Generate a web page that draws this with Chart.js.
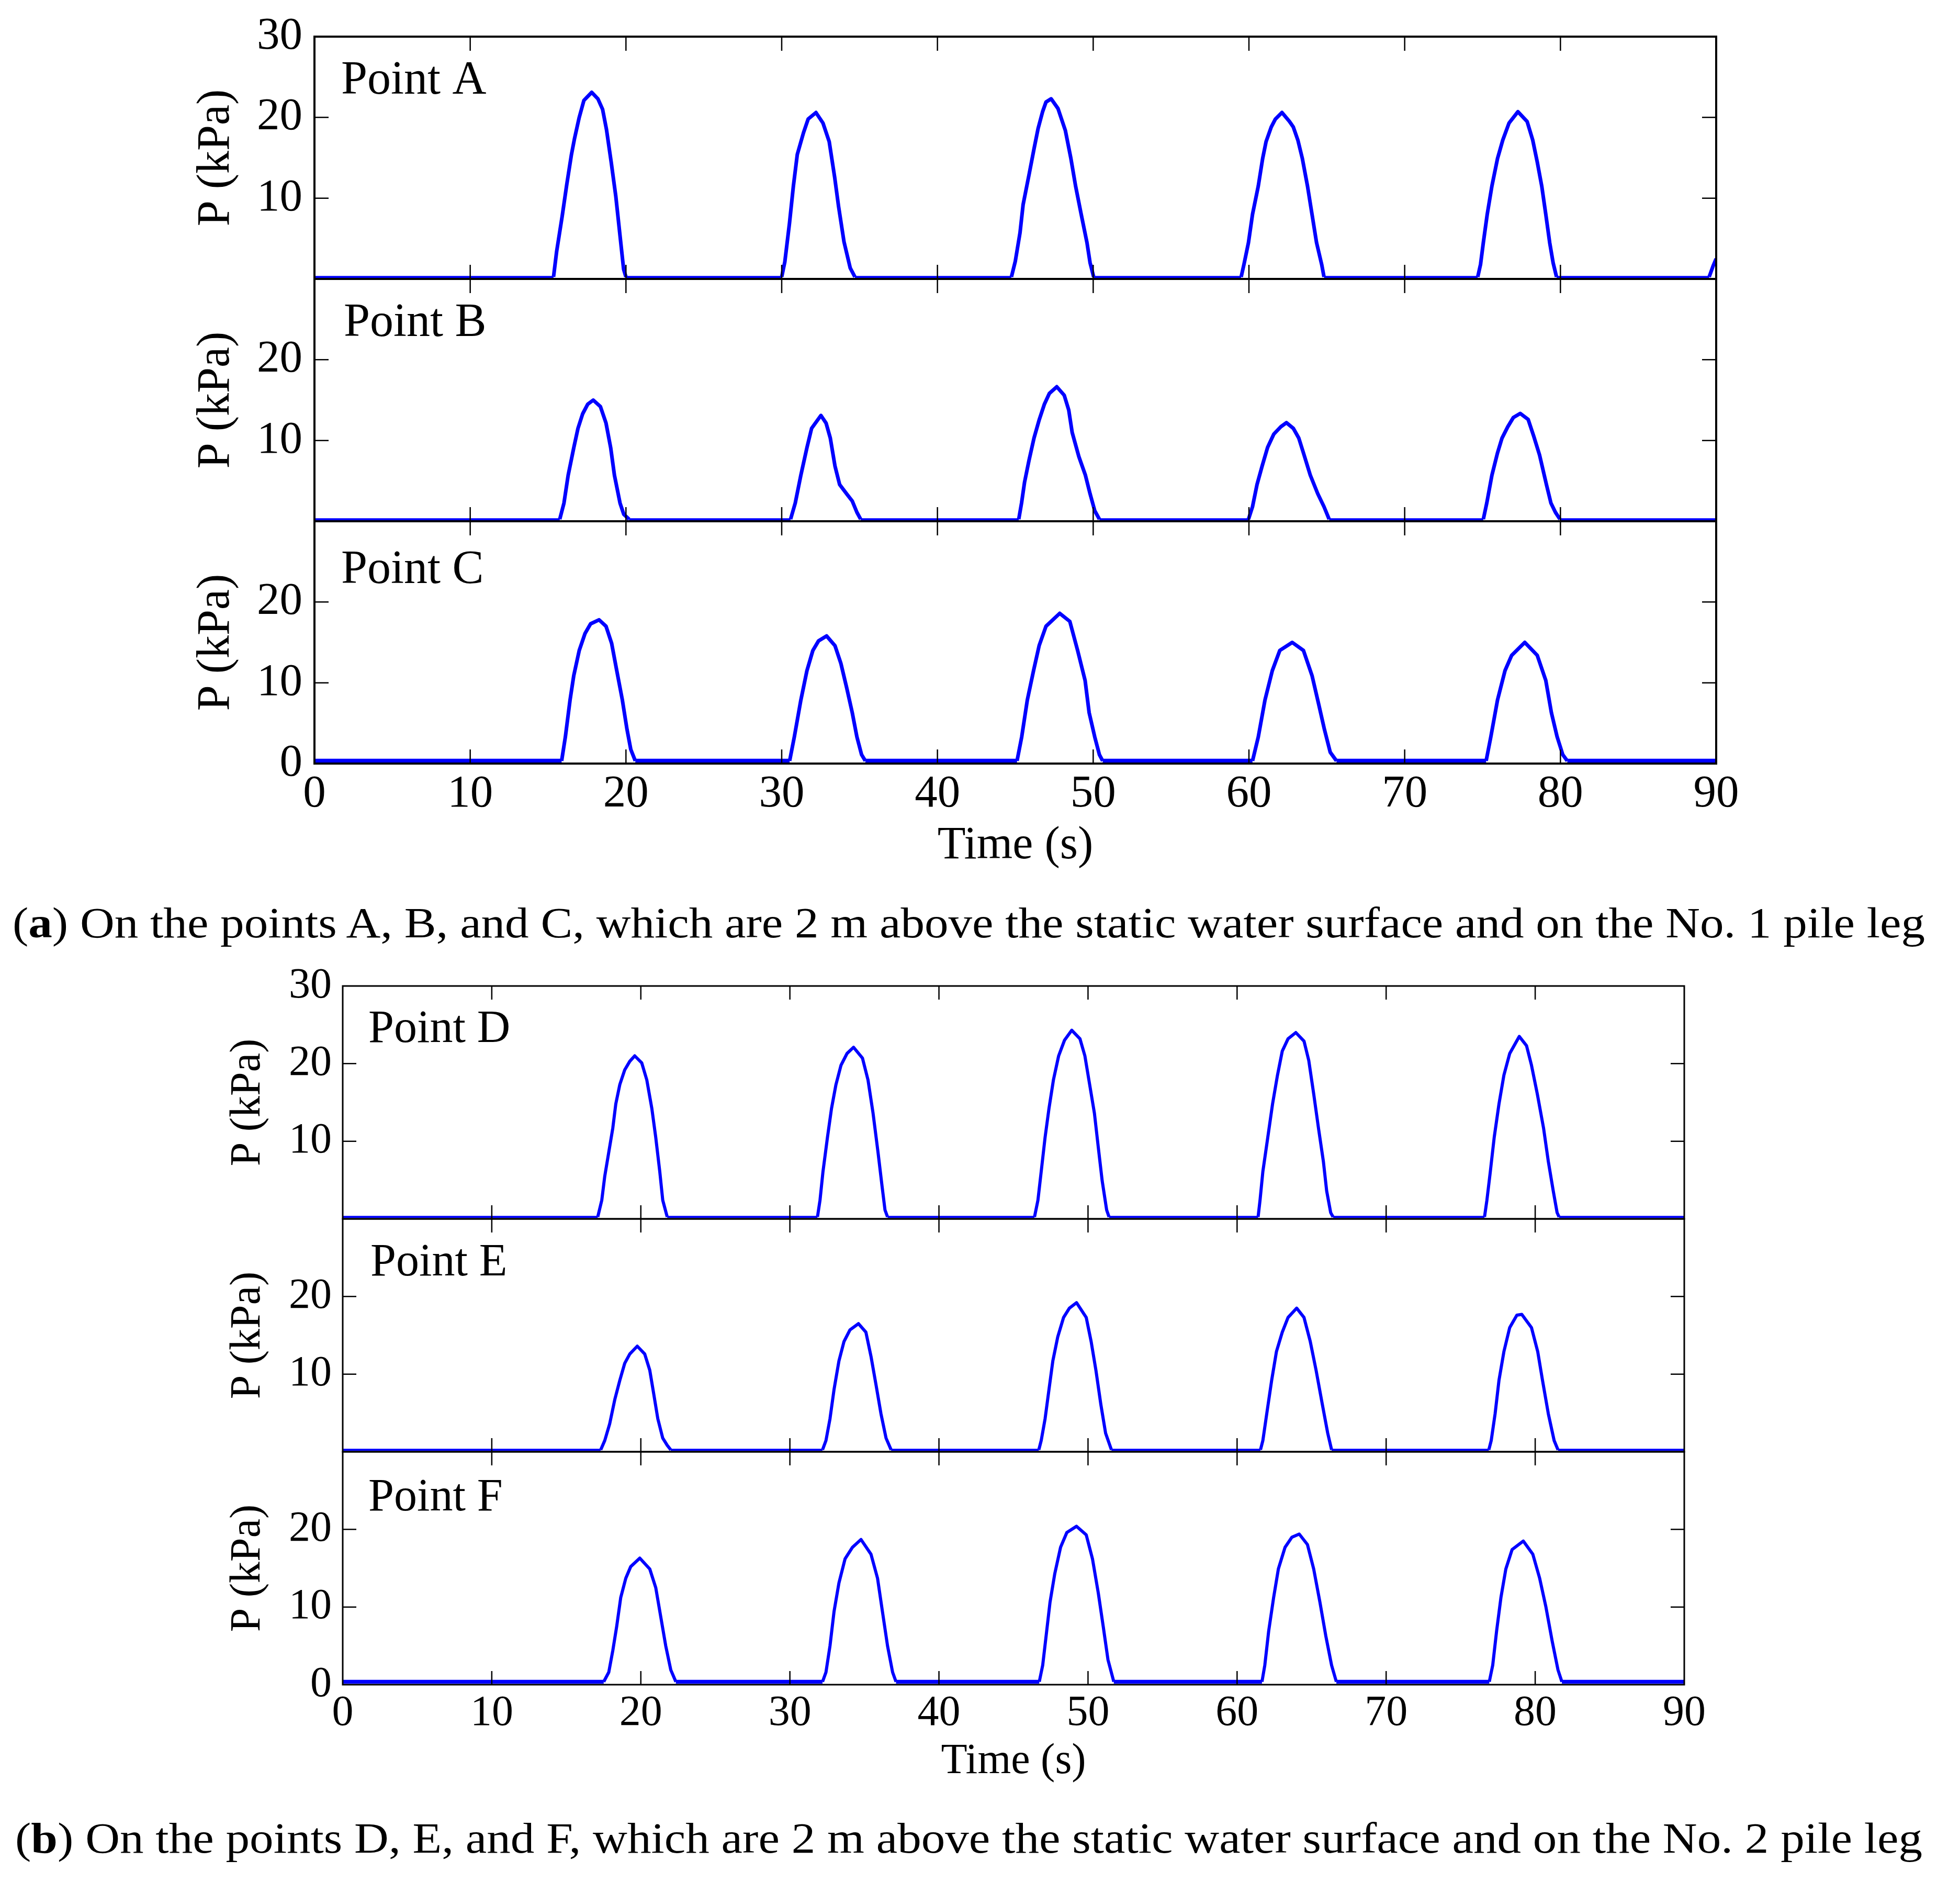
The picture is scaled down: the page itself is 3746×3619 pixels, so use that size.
<!DOCTYPE html>
<html>
<head>
<meta charset="utf-8">
<script src="https://cdn.jsdelivr.net/npm/chart.js@4.4.1/dist/chart.umd.min.js"></script>
<style>
  html, body { margin: 0; padding: 0; background: #fff; }
  body { position: relative; width: 3746px; height: 3619px; overflow: hidden; font-family: "Liberation Serif", serif; }
  canvas { position: absolute; left: 0; }
  .cap { position: absolute; white-space: nowrap; font-size: 83px; line-height: 83px; color: #000; transform-origin: 0 0; }
</style>
</head>
<body>
<div class="cap" data-left="24" data-right="3679" style="top:1722px">(<b>a</b>) On the points A, B, and C, which are 2 m above the static water surface and on the No. 1 pile leg</div>
<div class="cap" data-left="29" data-right="3674" style="top:3471px">(<b>b</b>) On the points D, E, and F, which are 2 m above the static water surface and on the No. 2 pile leg</div>
<script>
// Wave slamming pressure, six gauge points — Chart.js

// ---- axis ticks ----
const xTicks = [0, 10, 20, 30, 40, 50, 60, 70, 80, 90];
const yTicks = [0, 10, 20, 30];

// ---- data: time (s) / pressure (kPa) ----
const timeA = [0, 15.35, 15.55, 15.9, 16.2, 16.5, 16.7, 17.0, 17.3, 17.8, 18.2, 18.5, 18.75, 19.05, 19.35, 19.65, 19.85, 20.0,
  30.0, 30.2, 30.5, 30.75, 31.0, 31.4, 31.7, 32.2, 32.65, 33.05, 33.4, 33.65, 34.0, 34.4, 34.7,
  44.75, 45.0, 45.3, 45.5, 45.9, 46.2, 46.46, 46.75, 46.97, 47.3, 47.74, 48.21, 48.57, 48.87, 49.23, 49.6, 49.8, 50.03,
  59.5, 59.68, 59.97, 60.23, 60.6, 60.88, 61.1, 61.43, 61.7, 62.12, 62.6, 62.85, 63.14, 63.43, 63.76, 64.05, 64.34, 64.67, 64.82,
  74.69, 74.87, 75.05, 75.3, 75.6, 75.96, 76.3, 76.7, 77.27, 77.86, 78.22, 78.51, 78.8, 79.06, 79.31, 79.53, 79.75,
  89.55, 89.8, 90];
const pressA = [0.25, 0.25, 3.4, 7.7, 11.7, 15.4, 17.4, 20.0, 22.1, 23.1, 22.3, 21.0, 18.5, 14.5, 10.2, 4.8, 1.2, 0.25,
  0.25, 2.1, 6.9, 11.5, 15.4, 18.1, 19.8, 20.6, 19.3, 17.0, 12.6, 9.0, 4.6, 1.35, 0.25,
  0.25, 2.2, 5.7, 9.2, 13.1, 16.1, 18.6, 20.7, 21.9, 22.3, 21.1, 18.4, 14.9, 11.5, 8.0, 4.5, 2.0, 0.25,
  0.25, 1.8, 4.5, 8.0, 11.5, 14.9, 17.0, 18.8, 19.8, 20.6, 19.5, 18.8, 17.2, 14.9, 11.5, 8.0, 4.5, 1.8, 0.25,
  0.25, 1.8, 4.5, 8.0, 11.5, 14.9, 17.2, 19.3, 20.7, 19.5, 17.2, 14.5, 11.5, 8.0, 4.5, 2.0, 0.25,
  0.25, 1.6, 2.5];

const timeB = [0, 15.75, 16.02, 16.29, 16.65, 16.92, 17.22, 17.55, 17.9, 18.36, 18.72, 19.02, 19.26, 19.62, 19.86, 20.2,
  30.57, 30.87, 31.23, 31.62, 31.92, 32.52, 32.85, 33.12, 33.42, 33.72, 34.17, 34.53, 34.83, 35.07,
  45.22, 45.4, 45.59, 45.88, 46.2, 46.54, 46.86, 47.19, 47.66, 48.14, 48.43, 48.65, 49.08, 49.5, 49.8, 50.1, 50.4,
  59.97, 60.23, 60.52, 60.85, 61.2, 61.6, 62.05, 62.41, 62.85, 63.2, 63.5, 63.94, 64.42, 64.82, 65.15,
  75.05, 75.27, 75.6, 75.96, 76.25, 76.62, 76.98, 77.42, 77.93, 78.29, 78.66, 79.1, 79.39, 79.68, 79.97, 90];
const pressB = [0.25, 0.25, 2.25, 5.7, 9.1, 11.5, 13.3, 14.5, 15.0, 14.2, 12.15, 9.1, 5.7, 2.25, 0.86, 0.25,
  0.25, 2.25, 5.7, 9.1, 11.5, 13.1, 12.15, 10.3, 6.85, 4.55, 3.4, 2.5, 1.1, 0.25,
  0.25, 2.25, 4.8, 7.55, 10.3, 12.6, 14.46, 15.84, 16.65, 15.6, 13.77, 11.0, 8.0, 5.7, 3.4, 1.3, 0.25,
  0.25, 1.8, 4.55, 6.85, 9.15, 10.8, 11.7, 12.2, 11.5, 10.3, 8.46, 5.7, 3.4, 1.8, 0.25,
  0.25, 2.25, 5.7, 8.46, 10.3, 11.7, 12.85, 13.35, 12.6, 10.5, 8.2, 4.55, 2.25, 1.1, 0.25, 0.25];

const timeC = [0, 15.87, 16.11, 16.41, 16.65, 17.0, 17.37, 17.73, 18.27, 18.72, 19.08, 19.41, 19.77, 20.07, 20.31, 20.6,
  30.51, 30.81, 31.23, 31.62, 32.0, 32.37, 32.88, 33.42, 33.8, 34.17, 34.53, 34.83, 35.13, 35.37,
  45.11, 45.41, 45.77, 46.17, 46.53, 46.97, 47.85, 48.5, 49.0, 49.48, 49.74, 50.1, 50.4, 50.61,
  60.23, 60.6, 61.03, 61.5, 61.98, 62.78, 63.5, 64.05, 64.49, 64.85, 65.22, 65.62,
  75.23, 75.53, 75.96, 76.44, 76.87, 77.71, 78.51, 79.06, 79.42, 79.79, 80.15, 80.44, 90];
const pressC = [0.33, 0.33, 3.3, 7.86, 10.9, 14.0, 16.1, 17.3, 17.8, 17.0, 14.9, 11.5, 7.86, 4.2, 1.75, 0.33,
  0.33, 3.3, 7.86, 11.5, 14.0, 15.2, 15.8, 14.6, 12.4, 9.4, 6.3, 3.3, 1.1, 0.33,
  0.33, 3.3, 7.86, 11.5, 14.6, 17.0, 18.6, 17.6, 14.0, 10.3, 6.3, 3.3, 1.1, 0.33,
  0.33, 3.3, 7.86, 11.5, 14.0, 15.0, 14.0, 10.9, 7.25, 4.2, 1.4, 0.33,
  0.33, 3.3, 7.86, 11.5, 13.4, 15.0, 13.4, 10.3, 6.3, 3.3, 1.1, 0.33, 0.33];

const timeD = [0, 17.11, 17.38, 17.58, 17.85, 18.12, 18.32, 18.59, 18.92, 19.26, 19.59, 20.06, 20.4, 20.74, 21.0, 21.27, 21.47, 21.77,
  31.85, 32.02, 32.22, 32.52, 32.79, 33.09, 33.43, 33.83, 34.27, 34.87, 35.24, 35.58, 35.91, 36.18, 36.38, 36.55,
  46.41, 46.64, 46.86, 47.12, 47.38, 47.68, 48.03, 48.42, 48.91, 49.46, 49.79, 50.11, 50.43, 50.69, 50.95, 51.25, 51.41,
  61.41, 61.54, 61.73, 62.06, 62.38, 62.71, 63.03, 63.42, 63.94, 64.49, 64.81, 65.14, 65.46, 65.79, 66.01, 66.28, 66.44,
  76.6, 76.76, 76.99, 77.25, 77.57, 77.9, 78.29, 78.93, 79.42, 79.75, 80.14, 80.56, 80.88, 81.21, 81.47, 81.6, 90];
const pressD = [0.25, 0.25, 2.4, 5.5, 8.6, 11.7, 14.8, 17.3, 19.2, 20.3, 21.0, 20.1, 17.9, 14.2, 10.5, 6.1, 2.4, 0.25,
  0.25, 2.4, 6.1, 10.5, 14.2, 17.3, 19.8, 21.3, 22.1, 20.7, 17.9, 13.6, 8.6, 4.25, 1.15, 0.25,
  0.25, 2.4, 6.1, 10.5, 14.2, 17.9, 21.0, 23.0, 24.3, 23.2, 21.0, 17.3, 13.6, 9.2, 4.9, 1.15, 0.25,
  0.25, 2.4, 6.1, 10.5, 14.8, 18.5, 21.6, 23.2, 24.0, 22.9, 20.4, 16.1, 11.7, 7.4, 3.6, 0.8, 0.25,
  0.25, 2.4, 6.1, 10.5, 14.8, 18.5, 21.3, 23.5, 22.3, 19.8, 16.1, 11.7, 7.4, 3.6, 0.8, 0.25, 0.25];

const timeE = [0, 17.31, 17.58, 17.91, 18.25, 18.59, 18.92, 19.26, 19.76, 20.26, 20.6, 20.87, 21.14, 21.47, 21.77, 22.01,
  32.19, 32.42, 32.69, 32.96, 33.29, 33.63, 34.03, 34.6, 35.1, 35.44, 35.78, 36.11, 36.45, 36.79,
  46.7, 46.86, 47.12, 47.38, 47.64, 47.97, 48.36, 48.75, 49.23, 49.88, 50.21, 50.53, 50.86, 51.18, 51.57,
  61.57, 61.73, 61.99, 62.32, 62.64, 63.03, 63.42, 64.0, 64.49, 64.91, 65.3, 65.72, 66.08, 66.34,
  76.89, 77.05, 77.31, 77.57, 77.9, 78.29, 78.77, 79.1, 79.75, 80.17, 80.49, 80.88, 81.27, 81.53, 90];
const pressE = [0.25, 0.25, 1.45, 3.6, 6.7, 9.2, 11.4, 12.6, 13.6, 12.6, 10.5, 7.4, 4.25, 1.76, 0.83, 0.25,
  0.25, 1.45, 4.25, 8.0, 11.7, 14.2, 15.7, 16.5, 15.4, 12.3, 8.6, 4.9, 1.76, 0.25,
  0.25, 1.45, 4.25, 8.0, 11.7, 14.8, 17.3, 18.5, 19.2, 17.3, 14.2, 10.5, 6.1, 2.4, 0.25,
  0.25, 1.45, 4.9, 9.2, 12.9, 15.4, 17.3, 18.5, 17.3, 14.2, 10.5, 6.1, 2.4, 0.25,
  0.25, 1.45, 4.9, 9.2, 12.9, 16.0, 17.6, 17.7, 16.0, 12.9, 9.2, 4.9, 1.45, 0.25, 0.25];

const timeF = [0, 17.51, 17.85, 18.12, 18.38, 18.65, 18.99, 19.32, 19.93, 20.6, 21.0, 21.34, 21.67, 22.01, 22.35,
  32.19, 32.42, 32.69, 32.96, 33.29, 33.7, 34.2, 34.77, 35.44, 35.88, 36.21, 36.55, 36.89, 37.12,
  46.73, 46.96, 47.19, 47.45, 47.77, 48.16, 48.58, 49.23, 49.88, 50.3, 50.69, 51.02, 51.34, 51.73,
  61.67, 61.86, 62.12, 62.45, 62.77, 63.22, 63.68, 64.17, 64.72, 65.14, 65.56, 65.95, 66.34, 66.66,
  76.92, 77.15, 77.41, 77.7, 78.03, 78.45, 79.2, 79.84, 80.3, 80.72, 81.14, 81.53, 81.79, 90];
const pressF = [0.37, 0.37, 1.6, 4.4, 7.5, 11.2, 13.7, 15.2, 16.3, 14.9, 12.5, 8.7, 5.0, 1.9, 0.37,
  0.37, 1.6, 5.0, 9.4, 13.1, 16.2, 17.7, 18.7, 16.8, 13.7, 9.4, 5.0, 1.6, 0.37,
  0.37, 2.5, 6.3, 10.6, 14.3, 17.7, 19.6, 20.4, 19.3, 16.2, 11.8, 7.5, 3.2, 0.37,
  0.37, 2.5, 6.9, 11.2, 14.9, 17.7, 19.0, 19.4, 18.05, 14.9, 10.6, 6.3, 2.5, 0.37,
  0.37, 2.5, 6.9, 11.2, 14.9, 17.4, 18.5, 16.8, 13.7, 10.0, 5.6, 1.9, 0.37, 0.37];

// ---- layout / style per figure group ----
const PAGE_W = 3746;
const groups = {
  a: { left: 601, right: 3280, tickFont: 87, titleFont: 88, pointFont: 90, axisW: 4, tickW: 2.5, tickLen: 27, lineW: 7,
       padL: 361, tickPad: 23, xPad: 7, xH: 211 },
  b: { left: 655, right: 3219, tickFont: 82, titleFont: 82, pointFont: 88, axisW: 3, tickW: 2.5, tickLen: 26, lineW: 6,
       padL: 425, tickPad: 21, xPad: 6, xH: 197 }
};
const panels = [
  { label: 'Point A', t: timeA, p: pressA, g: 'a', top: 70,   bottom: 533,  hide: [0],     lx: 51, ly: 109, baseW: 4 },
  { label: 'Point B', t: timeB, p: pressB, g: 'a', top: 533,  bottom: 996,  hide: [0, 30], lx: 56, ly: 109, baseW: 4 },
  { label: 'Point C', t: timeC, p: pressC, g: 'a', top: 996,  bottom: 1459, hide: [30],    lx: 51, ly: 118, baseW: 8.5, last: true },
  { label: 'Point D', t: timeD, p: pressD, g: 'b', top: 1884, bottom: 2329, hide: [0],     lx: 49, ly: 107, baseW: 4 },
  { label: 'Point E', t: timeE, p: pressE, g: 'b', top: 2329, bottom: 2774, hide: [0, 30], lx: 53, ly: 108, baseW: 4 },
  { label: 'Point F', t: timeF, p: pressF, g: 'b', top: 2774, bottom: 3219, hide: [30],    lx: 49, ly: 112, baseW: 7.5, last: true }
];

Chart.defaults.font.family = '"Liberation Serif", "Times New Roman", serif';
Chart.defaults.color = '#000';

// ---- frame, inward ticks and panel label ----
const framePlugin = {
  id: 'frame',
  afterDatasetsDraw(chart, args, o) {
    const { ctx, chartArea: a, scales: { x, y } } = chart;
    ctx.save();
    ctx.strokeStyle = '#000';
    ctx.lineWidth = o.tickW;
    ctx.beginPath();
    xTicks.slice(1, -1).forEach(v => {
      const px = x.getPixelForValue(v);
      ctx.moveTo(px, a.top);    ctx.lineTo(px, a.top + o.tickLen);
      ctx.moveTo(px, a.bottom); ctx.lineTo(px, a.bottom - o.tickLen);
    });
    yTicks.slice(1, -1).forEach(v => {
      const py = y.getPixelForValue(v);
      ctx.moveTo(a.left, py);  ctx.lineTo(a.left + o.tickLen, py);
      ctx.moveTo(a.right, py); ctx.lineTo(a.right - o.tickLen, py);
    });
    ctx.stroke();
    ctx.lineWidth = o.axisW;
    ctx.strokeRect(a.left, a.top, a.right - a.left, a.bottom - a.top);
    ctx.fillStyle = '#000';
    ctx.font = o.pointFont + 'px "Liberation Serif"';
    ctx.textBaseline = 'alphabetic';
    ctx.textAlign = 'left';
    ctx.fillText(o.label, a.left + o.lx, a.top + o.ly);
    ctx.restore();
  }
};

const PAD = 110;   // room around each plot so tick-label padding never squeezes it
panels.forEach(pn => {
  const g = groups[pn.g];
  const plotH = pn.bottom - pn.top;
  const padB = pn.last ? 20 : PAD;
  const h = PAD + plotH + (pn.last ? g.xH + padB : padB);

  const cv = document.createElement('canvas');
  cv.width = PAGE_W; cv.height = h;
  cv.style.width = PAGE_W + 'px'; cv.style.height = h + 'px';
  cv.style.top = (pn.top - PAD) + 'px';
  document.body.appendChild(cv);

  const pts = pn.t.map((t, i) => ({ x: t, y: pn.p[i] }));

  new Chart(cv, {
    type: 'line',
    data: {
      datasets: [{
        data: pts,
        borderColor: '#0000ff',
        borderWidth: g.lineW,
        borderJoinStyle: 'round',
        pointRadius: 0,
        tension: 0,
        fill: false,
        segment: {
          borderWidth: c => (c.p0.parsed.y < 0.5 && c.p1.parsed.y < 0.5) ? pn.baseW : g.lineW
        }
      }]
    },
    options: {
      responsive: false,
      animation: false,
      devicePixelRatio: 1,
      events: [],
      layout: { autoPadding: false, padding: { left: g.padL, right: PAGE_W - g.right, top: PAD, bottom: padB } },
      plugins: {
        legend: { display: false },
        tooltip: { enabled: false },
        frame: { tickW: g.tickW, tickLen: g.tickLen, axisW: g.axisW, pointFont: g.pointFont, label: pn.label, lx: pn.lx, ly: pn.ly }
      },
      scales: {
        x: {
          type: 'linear', min: 0, max: 90,
          grid: { display: false, drawTicks: false },
          border: { display: false },
          ticks: {
            display: !!pn.last, stepSize: 10, maxRotation: 0, autoSkip: false,
            padding: g.xPad, font: { size: g.tickFont }, color: '#000'
          },
          title: { display: !!pn.last, text: 'Time (s)', padding: 0, font: { size: g.titleFont }, color: '#000' },
          afterFit: s => { s.height = pn.last ? g.xH : 0; }
        },
        y: {
          min: 0, max: 30,
          grid: { display: false, drawTicks: false },
          border: { display: false },
          ticks: {
            stepSize: 10, autoSkip: false, padding: g.tickPad, font: { size: g.tickFont }, color: '#000',
            callback: v => pn.hide.includes(v) ? '' : String(v)
          },
          title: { display: true, text: 'P (kPa)', padding: 0, font: { size: g.titleFont }, color: '#000' },
          afterFit: s => { s.width = g.left - g.padL; }
        }
      }
    },
    plugins: [framePlugin]
  });
});

// ---- captions: stretch to the printed width ----
document.querySelectorAll('.cap').forEach(el => {
  const L = +el.dataset.left, R = +el.dataset.right;
  el.style.left = L + 'px';
  const w = el.getBoundingClientRect().width;
  el.style.transform = 'scaleX(' + ((R - L) / w) + ')';
});
</script>
</body>
</html>
